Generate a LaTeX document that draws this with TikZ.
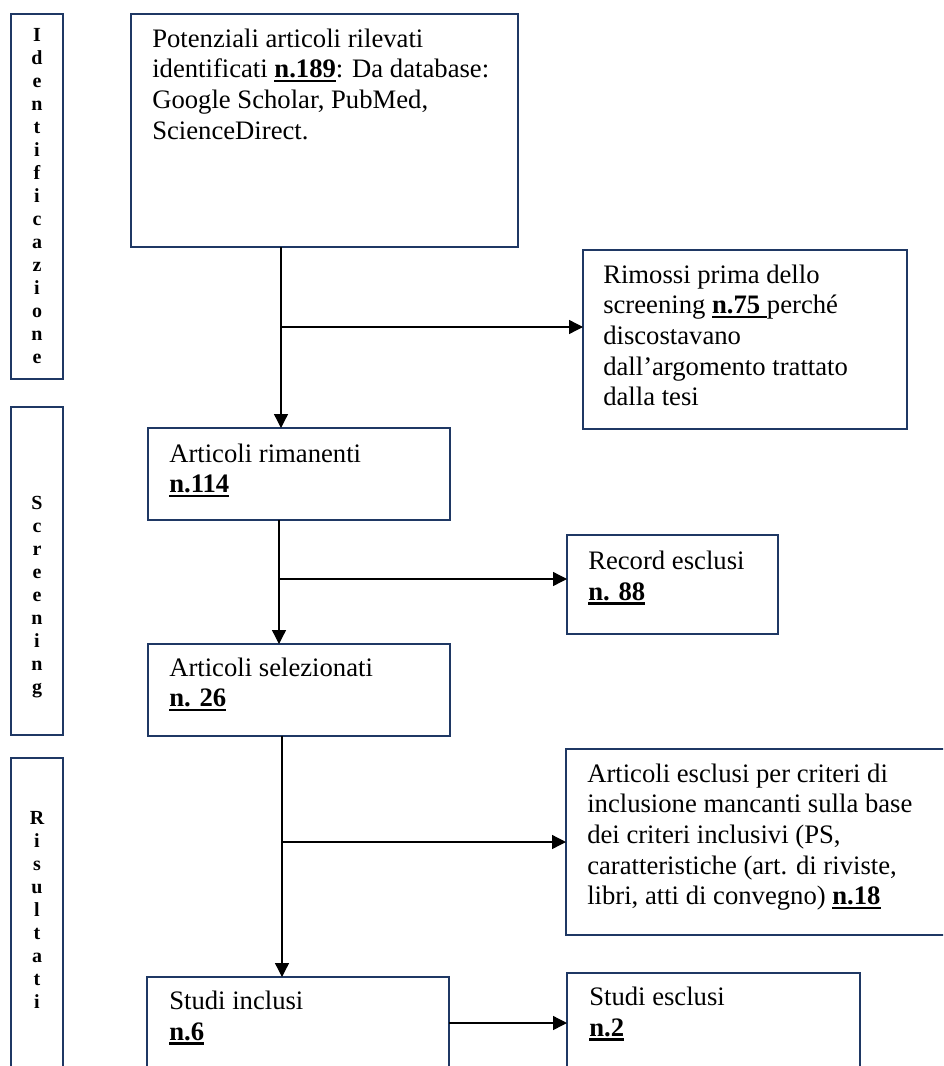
\documentclass[tikz,border=0pt]{standalone}
\usepackage{fontspec}
\setmainfont{Liberation Serif}
\usetikzlibrary{arrows.meta,fit}
\definecolor{navy}{RGB}{31,56,100}
\newsavebox{\ulbox}
\newcommand{\numu}[1]{\sbox{\ulbox}{\textbf{#1}}\rlap{\rule[-3.1pt]{\wd\ulbox}{1.6pt}}\usebox{\ulbox}}
\newcommand{\bodyfont}{\fontsize{20pt}{23pt}\selectfont}
\newcommand{\barfont}{\fontsize{15pt}{17.25pt}\selectfont\bfseries}
\begin{document}
\begin{tikzpicture}[x=0.75pt,y=-0.75pt,
  box/.style={draw=navy, line width=1.6pt, fill=white, inner sep=0pt, outer sep=0pt},
  txt/.style={anchor=north west, inner sep=0pt, align=left, font=\bodyfont, text=black},
  bartxt/.style={align=center, inner sep=0pt, font=\barfont, text=black},
  conn/.style={line width=1pt, black},
  arr/.style={conn, -{Triangle[length=10.5pt,width=10.5pt]}}
]
\clip (0,0) rectangle (943,1066);
\fill[white] (0,0) rectangle (943,1066);

% side bars
\node[box, fit={(11,14) (63,379)}] (barI) {};
\node[box, fit={(11,407) (63,735)}] (barS) {};
\node[box, fit={(11,758) (63,1090)}] (barR) {};
\node[bartxt] (tI) at (37,196.5) {I\\d\\e\\n\\t\\i\\f\\i\\c\\a\\z\\i\\o\\n\\e};
\node[bartxt] (tS) at (37,597) {S\\c\\r\\e\\e\\n\\i\\n\\g};
\node[bartxt] (tR) at (37,910) {R\\i\\s\\u\\l\\t\\a\\t\\i};

% boxes
\node[box, fit={(131,14) (518,247)}] (b1) {};
\node[box, fit={(583,250) (907,429)}] (rim) {};
\node[box, fit={(148,428) (450,520)}] (b2) {};
\node[box, fit={(567,535) (778,634)}] (rec) {};
\node[box, fit={(148,644) (450,736)}] (b4) {};
\node[box, fit={(566,749) (960,935)}] (exc) {};
\node[box, fit={(147,977) (449,1090)}] (b6) {};
\node[box, fit={(567,973) (860,1090)}] (b7) {};

% texts
\node[txt] (t1) at ([shift={(21,11.5)}]b1.north west) {\strut Potenziali articoli rilevati\\identificati \numu{n.189}: Da database:\\Google Scholar, PubMed,\\ScienceDirect.};
\node[txt] (trim) at ([shift={(20,11.5)}]rim.north west) {\strut Rimossi prima dello\\screening \numu{n.75\ }perché\\discostavano\\dall’argomento trattato\\dalla tesi};
\node[txt] (t2) at ([shift={(21,12.5)}]b2.north west) {\strut Articoli rimanenti\\\numu{n.114}};
\node[txt] (trec) at ([shift={(21,13)}]rec.north west) {\strut Record esclusi\\\numu{n. 88}};
\node[txt] (t4) at ([shift={(21,10.5)}]b4.north west) {\strut Articoli selezionati\\\numu{n. 26}};
\node[txt] (texc) at ([shift={(21,11.5)}]exc.north west) {\strut Articoli esclusi per criteri di\\inclusione mancanti sulla base\\dei criteri inclusivi (PS,\\caratteristiche (art. di riviste,\\libri, atti di convegno) \numu{n.18}};
\node[txt] (t6) at ([shift={(22,11)}]b6.north west) {\strut Studi inclusi\\\numu{n.6}};
\node[txt] (t7) at ([shift={(22,11)}]b7.north west) {\strut Studi esclusi\\\numu{n.2}};

% connectors
\coordinate (j1) at (281,327);
\draw[conn] (b1.south -| j1) -- (j1);
\draw[arr] (j1) -- (b2.north -| j1);
\draw[arr] (j1) -- (rim.west |- j1);

\coordinate (j2) at (279,579);
\draw[conn] (b2.south -| j2) -- (j2);
\draw[arr] (j2) -- (b4.north -| j2);
\draw[arr] (j2) -- (rec.west |- j2);

\coordinate (j3) at (282,842);
\draw[conn] (b4.south -| j3) -- (j3);
\draw[arr] (j3) -- (b6.north -| j3);
\draw[arr] (j3) -- (exc.west |- j3);

\coordinate (j4) at (449,1023);
\draw[arr] (b6.east |- j4) -- (b7.west |- j4);
\end{tikzpicture}
\end{document}
